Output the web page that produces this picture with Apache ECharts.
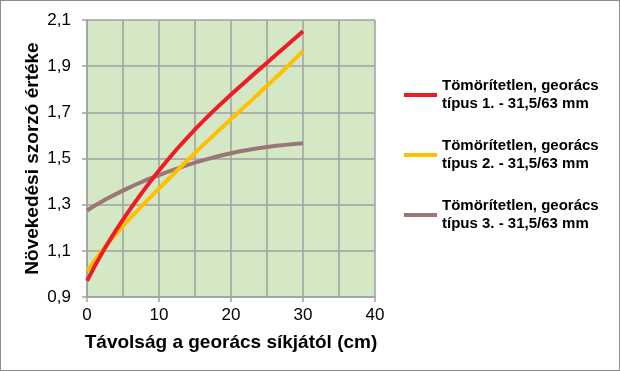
<!DOCTYPE html>
<html>
<head>
<meta charset="utf-8">
<script src="https://cdn.jsdelivr.net/npm/echarts@6/dist/echarts.min.js"></script>
<style>
html,body{margin:0;padding:0;background:#fff;}
#c{width:620px;height:371px;box-sizing:border-box;border:1px solid #8c8c8c;}
</style>
</head>
<body>
<div id="c"></div>
<script>
// Data
const xValues = [0, 2.5, 5, 7.5, 10, 12.5, 15, 17.5, 20, 22.5, 25, 27.5, 30];
const type1 = [0.970, 1.112, 1.235, 1.346, 1.448, 1.541, 1.626, 1.704, 1.777, 1.847, 1.915, 1.983, 2.051];
const type2 = [1.012, 1.117, 1.207, 1.290, 1.370, 1.448, 1.524, 1.598, 1.670, 1.742, 1.815, 1.889, 1.966];
const type3 = [1.275, 1.321, 1.361, 1.397, 1.428, 1.456, 1.482, 1.504, 1.523, 1.538, 1.550, 1.559, 1.566];
const seriesNames = [
  'Tömörítetlen, georács\ntípus 1. - 31,5/63 mm',
  'Tömörítetlen, georács\ntípus 2. - 31,5/63 mm',
  'Tömörítetlen, georács\ntípus 3. - 31,5/63 mm'
];
const xTickLabels = ['0', '10', '20', '30', '40'];
const xTitle = 'Távolság a georács síkjától (cm)';
const yTitle = 'Növekedési szorzó értéke';

const colors = ['#ee1c25', '#ffc000', '#9b7676'];
const seriesValues = [type1, type2, type3];

const chart = echarts.init(document.getElementById('c'), null, {renderer: 'canvas'});
const font = '"Liberation Sans", Arial, sans-serif';
const gridColor = '#a0a0a0';

chart.setOption({
  animation: false,
  backgroundColor: '#ffffff',
  textStyle: {fontFamily: font},
  grid: {
    left: 86, top: 19, right: 244, bottom: 73,
    show: true, backgroundColor: '#d4e8c6', borderWidth: 0
  },
  legend: {
    orient: 'vertical',
    left: 403, top: 67,
    padding: 0,
    itemWidth: 33, itemHeight: 4,
    itemGap: 6,
    icon: 'rect',
    selectedMode: false,
    textStyle: {
      fontFamily: font, fontSize: 15, fontWeight: 'bold', color: '#000',
      lineHeight: 18, padding: [18, 0, 0, 0]
    },
    data: seriesNames
  },
  xAxis: {
    type: 'value',
    min: 0, max: 40, interval: 10,
    name: xTitle,
    nameLocation: 'middle',
    nameGap: 36,
    nameTextStyle: {fontFamily: font, fontSize: 19, fontWeight: 'bold', color: '#000'},
    axisLine: {show: true, lineStyle: {color: gridColor, width: 1.5}},
    axisTick: {show: true, length: 5, lineStyle: {color: gridColor, width: 1.5}},
    axisLabel: {
      margin: 10, fontFamily: font, fontSize: 17, color: '#000',
      formatter: function (v) { const i = xTickLabels.indexOf(String(v)); return i >= 0 ? xTickLabels[i] : ''; }
    },
    splitLine: {show: true, lineStyle: {color: gridColor, width: 1.5}},
    minorTick: {show: false, splitNumber: 2},
    minorSplitLine: {show: true, lineStyle: {color: gridColor, width: 1.5}}
  },
  yAxis: {
    type: 'value',
    min: 0.9, max: 2.1, interval: 0.2,
    name: yTitle,
    nameLocation: 'middle',
    nameGap: 45,
    nameTextStyle: {fontFamily: font, fontSize: 19, fontWeight: 'bold', color: '#000'},
    axisLine: {show: true, lineStyle: {color: gridColor, width: 1.5}},
    axisTick: {show: true, length: 5, lineStyle: {color: gridColor, width: 1.5}},
    axisLabel: {
      margin: 16, fontFamily: font, fontSize: 17, color: '#000',
      formatter: function (v) { return v.toFixed(1).replace('.', ','); }
    },
    splitLine: {show: true, lineStyle: {color: gridColor, width: 1.5}}
  },
  series: seriesValues.map(function (vals, i) {
    return {
      name: seriesNames[i],
      type: 'line',
      smooth: true,
      symbol: 'none',
      z: 5 - i,
      lineStyle: {color: colors[i], width: 4},
      itemStyle: {color: colors[i]},
      data: xValues.map(function (x, j) { return [x, vals[j]]; })
    };
  })
});
</script>
</body>
</html>
